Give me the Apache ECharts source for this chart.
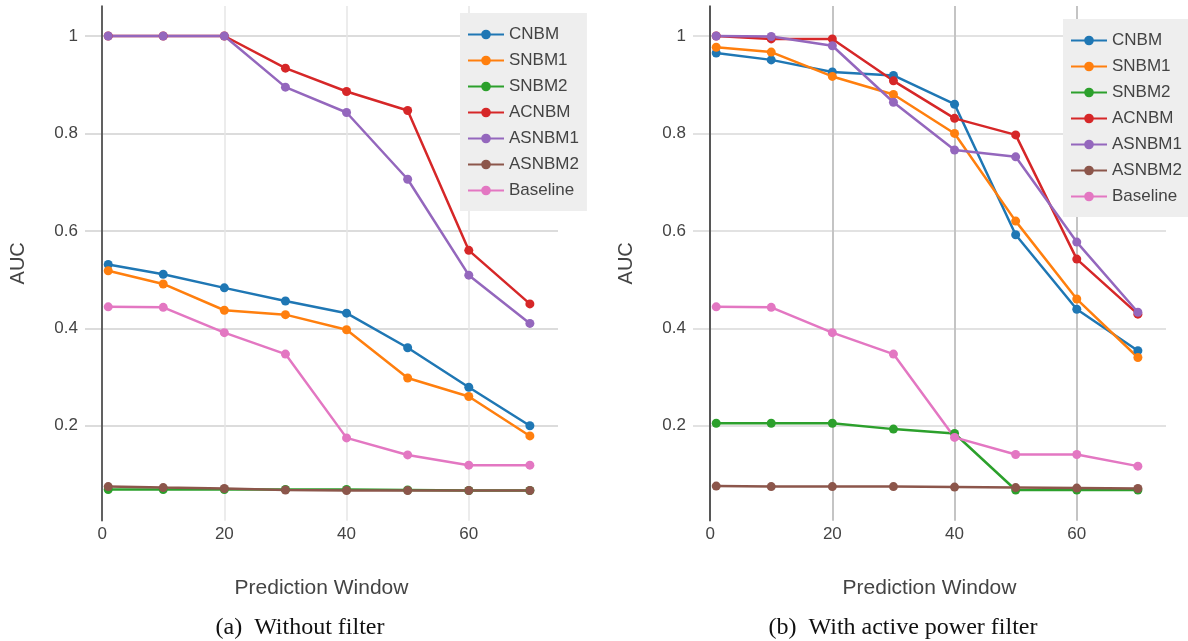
<!DOCTYPE html>
<html>
<head>
<meta charset="utf-8">
<title>AUC vs Prediction Window</title>
<script src="https://cdn.jsdelivr.net/npm/echarts@6.0.0/dist/echarts.min.js"></script>
<style>
  html, body { margin: 0; padding: 0; background: #fff; }
  #chart { width: 1188px; height: 641px; }
</style>
</head>
<body>
<div id="chart"></div>
<script>
// prediction windows (x)
const windows = [1, 10, 20, 30, 40, 50, 60, 70]
const seriesNames = ['CNBM', 'SNBM1', 'SNBM2', 'ACNBM', 'ASNBM1', 'ASNBM2', 'Baseline']
const colors = ['#1f77b4', '#ff7f0e', '#2ca02c', '#d62728', '#9467bd', '#8c564b', '#e377c2']
const xTicks = [0, 20, 40, 60]
const yTicks = [0.2, 0.4, 0.6, 0.8, 1]

// (a) without filter
const noFilterCNBM = [0.531, 0.511, 0.483, 0.456, 0.431, 0.360, 0.279, 0.200]
const noFilterSNBM1 = [0.518, 0.491, 0.437, 0.428, 0.397, 0.298, 0.260, 0.179]
const noFilterSNBM2 = [0.069, 0.069, 0.069, 0.069, 0.069, 0.068, 0.067, 0.067]
const noFilterACNBM = [1.0, 1.0, 1.0, 0.934, 0.886, 0.847, 0.560, 0.450]
const noFilterASNBM1 = [1.0, 1.0, 1.0, 0.895, 0.843, 0.706, 0.509, 0.410]
const noFilterASNBM2 = [0.075, 0.073, 0.071, 0.068, 0.067, 0.067, 0.067, 0.067]
const noFilterBaseline = [0.444, 0.443, 0.391, 0.347, 0.175, 0.140, 0.119, 0.119]

// (b) with active power filter
const filterCNBM = [0.965, 0.951, 0.926, 0.919, 0.860, 0.592, 0.439, 0.354]
const filterSNBM1 = [0.977, 0.967, 0.917, 0.880, 0.800, 0.620, 0.460, 0.340]
const filterSNBM2 = [0.205, 0.205, 0.205, 0.193, 0.184, 0.068, 0.068, 0.068]
const filterACNBM = [1.0, 0.994, 0.994, 0.908, 0.831, 0.797, 0.542, 0.429]
const filterASNBM1 = [1.0, 0.999, 0.980, 0.864, 0.766, 0.752, 0.577, 0.433]
const filterASNBM2 = [0.076, 0.075, 0.075, 0.075, 0.074, 0.073, 0.072, 0.071]
const filterBaseline = [0.444, 0.443, 0.391, 0.347, 0.176, 0.141, 0.141, 0.117]

const noFilterData = [noFilterCNBM, noFilterSNBM1, noFilterSNBM2, noFilterACNBM, noFilterASNBM1, noFilterASNBM2, noFilterBaseline]
const filterData = [filterCNBM, filterSNBM1, filterSNBM2, filterACNBM, filterASNBM1, filterASNBM2, filterBaseline]

const sansFont = 'Liberation Sans, Arial, sans-serif'
const serifFont = 'Liberation Serif, Times New Roman, serif'
const textColor = '#444'

function makeXAxis(gridIndex, vColor, vWidth) {
  return {
    type: 'value',
    gridIndex: gridIndex,
    min: -2.8,
    max: 74.6,
    name: 'Prediction Window',
    nameLocation: 'middle',
    nameGap: 57,
    nameTextStyle: { fontFamily: sansFont, fontSize: 21, color: textColor },
    axisLine: { show: false },
    axisTick: { show: false, customValues: xTicks },
    axisLabel: {
      customValues: xTicks,
      margin: 5,
      fontFamily: sansFont,
      fontSize: 17,
      color: textColor
    },
    splitLine: { show: true, lineStyle: { color: vColor, width: vWidth } }
  }
}

function makeYAxis(gridIndex, hColor) {
  return {
    type: 'value',
    gridIndex: gridIndex,
    min: 0.005,
    max: 1.0616,
    name: 'AUC',
    nameLocation: 'middle',
    nameGap: 57,
    nameTextStyle: { fontFamily: sansFont, fontSize: 20, color: textColor },
    axisLine: { show: true, onZero: true, lineStyle: { color: '#333', width: 1.5 } },
    axisTick: { show: false, customValues: yTicks },
    axisLabel: {
      customValues: yTicks,
      margin: 7,
      fontFamily: sansFont,
      fontSize: 17,
      color: textColor
    },
    splitLine: { show: true, lineStyle: { color: hColor, width: 1.5 } }
  }
}

function makeSeries(dataList, axisIndex) {
  return dataList.map((values, i) => ({
    name: seriesNames[i],
    type: 'line',
    xAxisIndex: axisIndex,
    yAxisIndex: axisIndex,
    data: values.map((v, j) => [windows[j], v]),
    symbol: 'circle',
    symbolSize: 9,
    showSymbol: true,
    animation: false,
    lineStyle: { width: 2.5, color: colors[i] },
    itemStyle: { color: colors[i] }
  }))
}

function makeLegend(left, top) {
  return {
    left: left,
    top: top,
    orient: 'vertical',
    data: seriesNames,
    backgroundColor: '#eeeeee',
    padding: [13, 8, 12, 7],
    itemWidth: 36,
    itemHeight: 12,
    itemGap: 9,
    textStyle: { fontFamily: sansFont, fontSize: 17, color: textColor }
  }
}

const chart = echarts.init(document.getElementById('chart'), null, { renderer: 'canvas' })

const option = {
  backgroundColor: '#fff',
  animation: false,
  color: colors,
  grid: [
    { left: 85, top: 6, width: 473, height: 514.7, outerBoundsMode: 'none', containLabel: false },
    { left: 693, top: 6, width: 473, height: 514.7, outerBoundsMode: 'none', containLabel: false }
  ],
  xAxis: [makeXAxis(0, '#e6e6e6', 1.5), makeXAxis(1, '#c4c4c4', 2)],
  yAxis: [makeYAxis(0, '#d0d0d0'), makeYAxis(1, '#d8d8d8')],
  legend: [makeLegend(460, 13), makeLegend(1063, 19)],
  series: makeSeries(noFilterData, 0).concat(makeSeries(filterData, 1)),
  graphic: [
    {
      type: 'text',
      left: 300, top: 616,
      style: { text: '(a)  Without filter', fontFamily: serifFont, fontSize: 24, fill: '#111' }
    },
    {
      type: 'text',
      left: 903, top: 616,
      style: { text: '(b)  With active power filter', fontFamily: serifFont, fontSize: 24, fill: '#111' }
    }
  ]
}

chart.setOption(option)

// center the captions under each panel
const captionCenters = [300, 903]
const captions = option.graphic.map((g, i) => {
  const ctx = document.createElement('canvas').getContext('2d')
  ctx.font = g.style.fontSize + 'px ' + g.style.fontFamily
  const w = ctx.measureText(g.style.text).width
  return { left: captionCenters[i] - w / 2 }
})
chart.setOption({ graphic: captions })

window.addEventListener('resize', () => chart.resize())
</script>
</body>
</html>
